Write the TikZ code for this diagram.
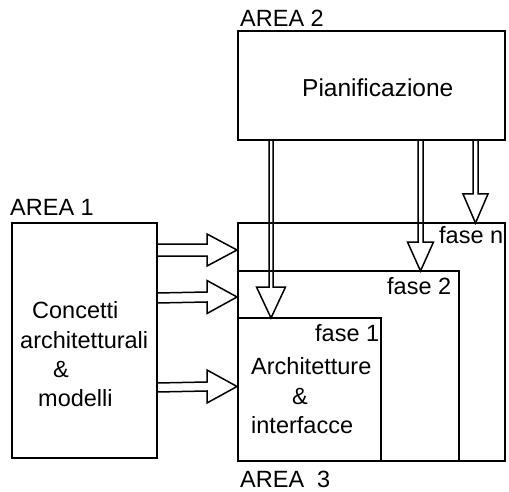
\documentclass[tikz,border=0pt]{standalone}
\usepackage{fontspec}
\setmainfont{Liberation Sans}
\usetikzlibrary{calc}
\newcommand{\hollowH}[5]{% src, dst, shaft half, head half, head length
  \draw[arr] ($(#1)+(0,-#3)$) -- ($(#2)+(-#5,-#3)$) -- ($(#2)+(-#5,-#4)$) -- (#2)
    -- ($(#2)+(-#5,#4)$) -- ($(#2)+(-#5,#3)$) -- ($(#1)+(0,#3)$);}
\newcommand{\hollowV}[5]{%
  \draw[arr] ($(#1)+(-#3,0)$) -- ($(#2)+(-#3,-#5)$) -- ($(#2)+(-#4,-#5)$) -- (#2)
    -- ($(#2)+(#4,-#5)$) -- ($(#2)+(#3,-#5)$) -- ($(#1)+(#3,0)$);}
\begin{document}
\begin{tikzpicture}[x=1pt,y=-1pt,
  box/.style={draw, line width=1.7pt, inner sep=0pt, outer sep=0pt, anchor=north west},
  arr/.style={line width=1.5pt},
  txt/.style={font=\fontsize{23.5}{28}\selectfont, inner sep=0pt, anchor=base west}]
\useasboundingbox (0,0) rectangle (509,492);
% boxes
\node[box, minimum width=267pt, minimum height=109pt] (a2) at (238,31) {};
\node[box, minimum width=145pt, minimum height=235pt] (a1) at (12,223) {};
\node[box, minimum width=267pt, minimum height=238pt] (fn) at (238,223) {};
\node[box, minimum width=221pt, minimum height=190pt] (f2) at (238,271) {};
\node[box, minimum width=143pt, minimum height=143pt] (f1) at (238,318) {};
% texts
\node[txt] (l2) at (240,27) {AREA 2};
\node[txt] (l1) at (10,215) {AREA 1};
\node[txt] (l3) at (240,487) {AREA\ \ 3};
\node[txt, font=\fontsize{24.5}{28}\selectfont] (pian) at (302,97) {Pianificazione};
\node[txt] (tfn) at (439,243) {fase n};
\node[txt] (tf2) at (387,294) {fase 2};
\node[txt] (tf1) at (315,341) {fase 1};
\node[txt] (t1) at (251,374) {Architetture};
\node[txt] (t2) at (292,404) {\&};
\node[txt] (t3) at (251,433) {interfacce};
\node[txt] (c1) at (32,318) {Concetti};
\node[txt] (c2) at (20,348) {architetturali};
\node[txt] (c3) at (53,377) {\&};
\node[txt] (c4) at (38,406) {modelli};
% arrow end points
\coordinate (h1s) at (a1.east |- 0,250);
\coordinate (h1t) at (237,250);
\coordinate (h2s) at (a1.east |- 0,298);
\coordinate (h2t) at (237,297);
\coordinate (h3s) at (a1.east |- 0,387.5);
\coordinate (h3t) at (237,386.5);
\coordinate (v1s) at (a2.south -| 271,0);
\coordinate (v1t) at (f1.north -| 271,0);
\coordinate (v2s) at (a2.south -| 420.5,0);
\coordinate (v2t) at (f2.north -| 420.5,0);
\coordinate (v3s) at (a2.south -| 475.5,0);
\coordinate (v3t) at (fn.north -| 475.5,0);
% arrows
\hollowH{h1s}{h1t}{6}{16}{30}
\hollowH{h2s}{h2t}{5}{16.5}{30}
\hollowH{h3s}{h3t}{4.5}{16.5}{30}
\hollowV{v1s}{v1t}{2}{14.5}{31}
\hollowV{v2s}{v2t}{2.5}{13}{29}
\hollowV{v3s}{v3t}{2.5}{12.5}{29}
\end{tikzpicture}
\end{document}
